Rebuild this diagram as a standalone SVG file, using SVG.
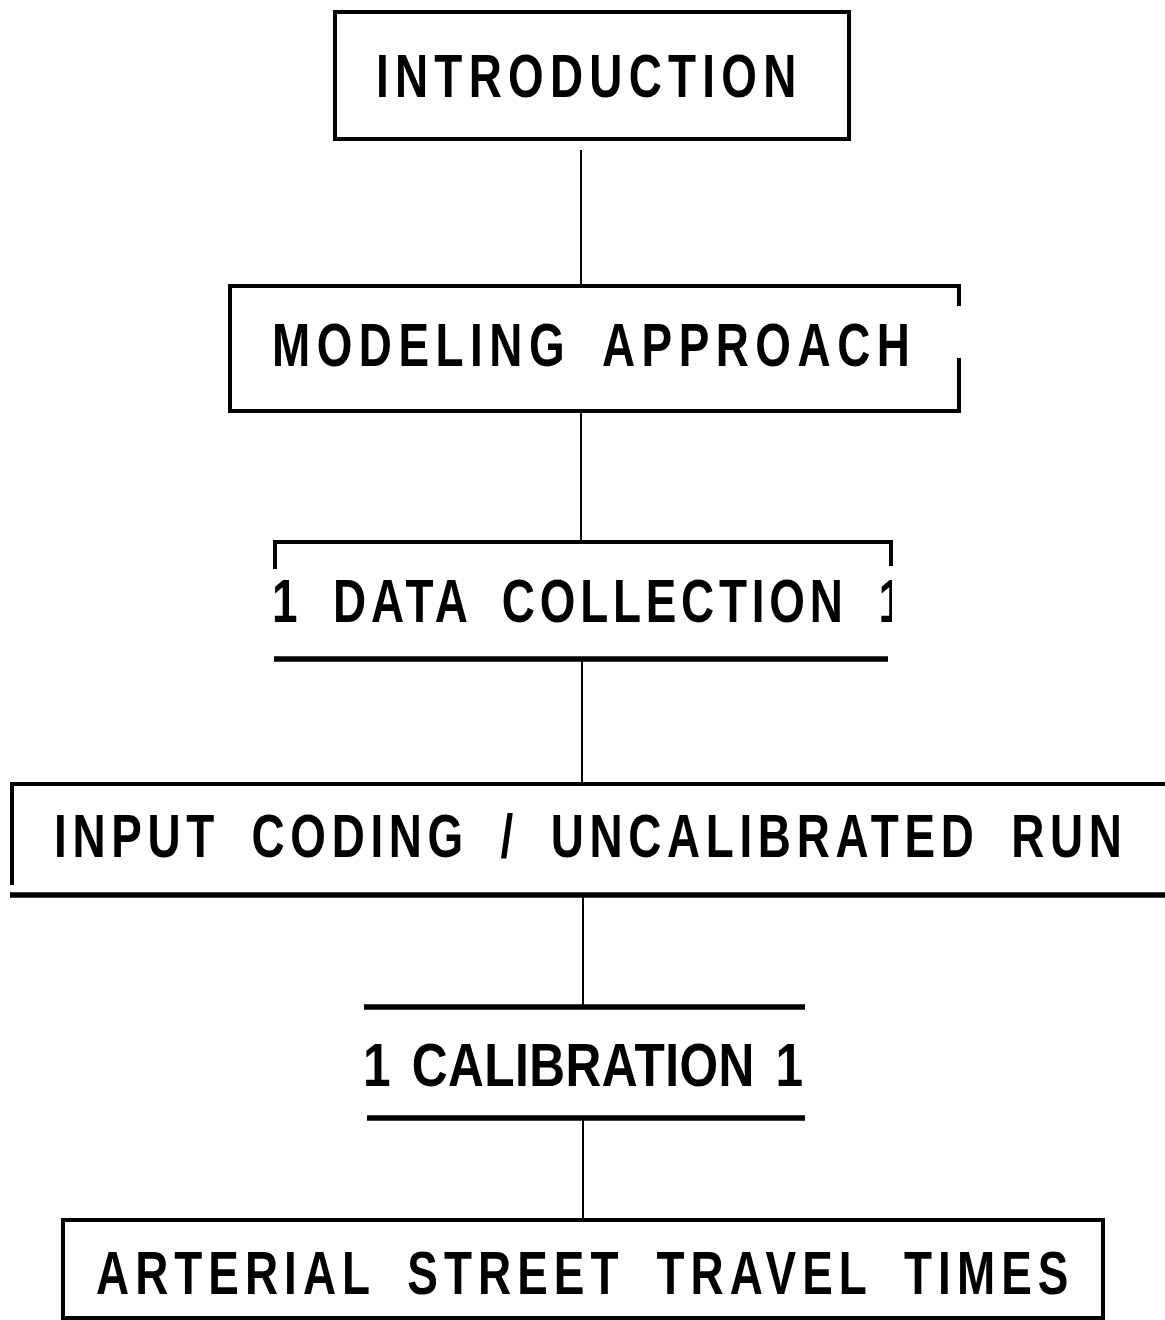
<svg xmlns="http://www.w3.org/2000/svg" width="1165" height="1320" viewBox="0 0 1165 1320">
<style>
.t{font-family:"Liberation Sans",Arial,sans-serif;font-size:62px;font-weight:bold;fill:#000;word-spacing:18px}
.b{fill:none;stroke:#000;stroke-width:4}
.k{fill:none;stroke:#000;stroke-width:5.5}
.c{fill:none;stroke:#000;stroke-width:2}
</style>
<defs>
<clipPath id="dcclip"><rect x="0" y="560" width="892" height="80"/></clipPath>
</defs>
<rect width="1165" height="1320" fill="#fff"/>
<g id="connectors">
<line class="c" x1="581" y1="150" x2="581" y2="285"/>
<line class="c" x1="581" y1="412" x2="581" y2="541"/>
<line class="c" x1="582" y1="660" x2="582" y2="782"/>
<line class="c" x1="583" y1="897" x2="583" y2="1007"/>
<line class="c" x1="583" y1="1120" x2="583" y2="1219"/>
</g>
<g id="introduction">
<rect class="b" x="335" y="12" width="514" height="127"/>
<text class="t" transform="translate(376,97) scale(0.74,1)" textLength="568" lengthAdjust="spacing">INTRODUCTION</text>
</g>
<g id="modeling-approach">
<path class="b" d="M959,306 V286 H230 V411 H959 V358"/>
<text class="t" transform="translate(272,366) scale(0.74,1)" textLength="862" lengthAdjust="spacing">MODELING APPROACH</text>
</g>
<g id="data-collection">
<path class="b" d="M275,569 V542 H891 V566"/>
<line class="k" x1="274" y1="659" x2="888" y2="659"/>
<g clip-path="url(#dcclip)">
<text class="t" transform="translate(272,622) scale(0.74,1)" textLength="854" lengthAdjust="spacing">1 DATA COLLECTION 1</text>
</g>
</g>
<g id="input-coding">
<path class="b" d="M12,885 V784 H1165"/>
<line class="k" x1="10" y1="895" x2="1165" y2="895"/>
<text class="t" transform="translate(54,857) scale(0.74,1)" textLength="1443" lengthAdjust="spacing">INPUT CODING / UNCALIBRATED RUN</text>
</g>
<g id="calibration">
<line class="k" x1="364" y1="1007" x2="805" y2="1007"/>
<line class="k" x1="367" y1="1118" x2="805" y2="1118"/>
<text class="t" font-size="65" transform="translate(363,1086) scale(0.8,1)" textLength="550" lengthAdjust="spacing" style="word-spacing:8px">1 CALIBRATION 1</text>
</g>
<g id="arterial-street-travel-times">
<rect class="b" x="63" y="1220" width="1040" height="98"/>
<text class="t" transform="translate(96,1294) scale(0.74,1)" textLength="1314" lengthAdjust="spacing">ARTERIAL STREET TRAVEL TIMES</text>
</g>
</svg>
